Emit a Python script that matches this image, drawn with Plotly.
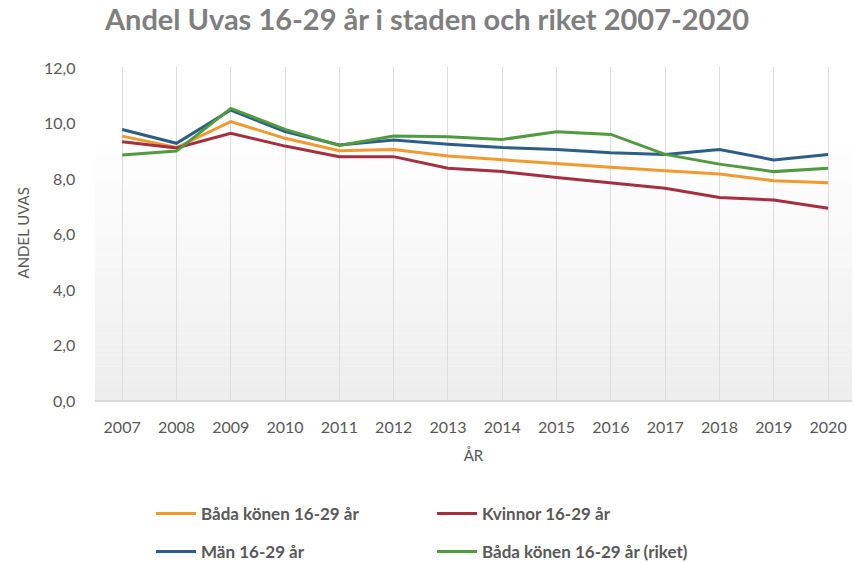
import plotly.graph_objects as go

years = list(range(2007, 2021))
bada = [9.51, 9.10, 10.03, 9.43, 8.98, 9.03, 8.79, 8.65, 8.53, 8.39, 8.26, 8.14, 7.90, 7.83]
kvinnor = [9.31, 9.08, 9.61, 9.15, 8.77, 8.77, 8.35, 8.23, 8.02, 7.83, 7.63, 7.30, 7.21, 6.91]
man = [9.75, 9.25, 10.45, 9.67, 9.19, 9.37, 9.22, 9.10, 9.03, 8.91, 8.85, 9.03, 8.65, 8.85]
riket = [8.83, 8.97, 10.51, 9.75, 9.17, 9.51, 9.49, 9.39, 9.67, 9.57, 8.85, 8.50, 8.23, 8.35]
y_ticks = [0, 2, 4, 6, 8, 10, 12]

names = ["Båda könen 16-29 år", "Kvinnor 16-29 år", "Män 16-29 år", "Båda könen 16-29 år (riket)"]
colors = ["#F29A2E", "#A52F40", "#2C5E8A", "#509B3E"]
legends = ["legend", "legend", "legend2", "legend2"]
series = [bada, kvinnor, man, riket]

FONT = "Lato"
GRAY = "#595959"

fig = go.Figure()
for name, vals, col, lg in zip(names, series, colors, legends):
    fig.add_trace(go.Scatter(x=years, y=vals, mode="lines", name=name,
                             line=dict(color=col, width=3), legend=lg))

# subtle vertical gradient background (decoration)
n = 30
for i in range(n):
    f = i / n
    g = int(round(238 + (255 - 238) * min(1.0, f * 1.3)))
    fig.add_shape(type="rect", xref="x domain", yref="y domain",
                  x0=0, x1=1, y0=f, y1=(i + 1) / n,
                  fillcolor=f"rgb({g},{g},{g})", line=dict(width=0), layer="below")

legend_common = dict(orientation="h", xanchor="left", yanchor="middle",
                     entrywidth=226, entrywidthmode="pixels", itemwidth=40,
                     font=dict(size=17, color=GRAY, family=FONT, weight=700),
                     bgcolor="rgba(0,0,0,0)")

# y tick labels (placed further from the plot, as in the original)
for v in y_ticks:
    fig.add_annotation(text=f"{v:.1f}".replace(".", ","), xref="paper", yref="y",
                       x=-0.0238, y=v, xanchor="right", yanchor="middle",
                       showarrow=False, font=dict(size=16, color=GRAY, family=FONT))

fig.add_annotation(text="ANDEL UVAS", xref="paper", yref="paper", x=-0.0964, y=0.5,
                   xanchor="center", yanchor="middle", textangle=-90, showarrow=False,
                   font=dict(size=15, color=GRAY, family=FONT))

fig.update_layout(
    width=854, height=562,
    margin=dict(l=95, r=2, t=67, b=162, autoexpand=False),
    paper_bgcolor="white", plot_bgcolor="white",
    separators=",.",
    font=dict(family=FONT, color=GRAY, size=16),
    title=dict(text="<b>Andel Uvas 16-29 år i staden och riket 2007-2020</b>",
               x=0.5, xanchor="center", y=0.9653, yanchor="middle",
               font=dict(size=29, color="#7F7F7F", family=FONT)),
    xaxis=dict(range=[2006.5, 2020.44], tickvals=years, ticktext=[str(y) for y in years],
               showgrid=True, gridcolor="#DDDDDD", gridwidth=1, automargin=False,
               showline=True, linecolor="#D9D9D9", linewidth=1.5, zeroline=False,
               ticks="", tickfont=dict(size=16, color=GRAY), ticklabelstandoff=12,
               title=dict(text="ÅR", font=dict(size=15, color=GRAY), standoff=16)),
    yaxis=dict(range=[0, 12], tickvals=y_ticks, showticklabels=False,
               showgrid=False, zeroline=False, showline=False, automargin=False,
               ticks=""),
    legend=dict(x=0.074, y=-0.342, **legend_common),
    legend2=dict(x=0.074, y=-0.456, **legend_common),
    showlegend=True,
)

fig.write_html("out.html", config={"displayModeBar": False},
               post_script="document.body.style.margin='0';")
